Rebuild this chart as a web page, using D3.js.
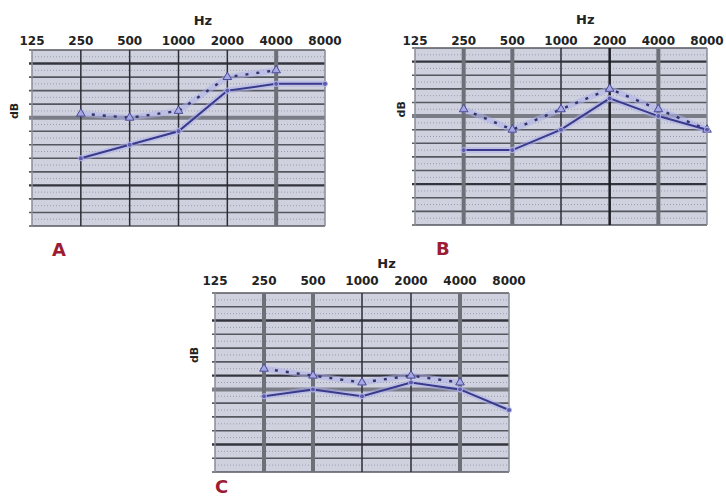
<!DOCTYPE html>
<html>
<head>
<meta charset="utf-8">
<title>Audiograms</title>
<style>
  body { margin: 0; background: #fff; }
  text { font-family: Verdana, "DejaVu Sans", sans-serif; }
</style>
</head>
<body>
<div id="chart"></div>
<script src="https://d3js.org/d3.v7.min.js"></script>
<script>
// data
var freqs = [125, 250, 500, 1000, 2000, 4000, 8000];
var freqLabels = ["125", "250", "500", "1000", "2000", "4000", "8000"];
var dbTicks = d3.range(-10, 121, 10);
var testFreqs = [250, 500, 1000, 2000, 4000, 8000];

var aSolid  = [70, 60, 50, 20, 15, 15];
var aDashed = [37, 40, 35, 10, 5, null];
var bSolid  = [65, 65, 50, 27, 40, 50];
var bDashed = [35, 50, 35, 20, 35, 50];
var cSolid  = [65, 60, 65, 55, 60, 75];
var cDashed = [45, 50, 55, 50, 55, null];

var panels = [
  { letter: "A", solid: aSolid, dashed: aDashed, x0: 32, x1: 325, y0: 50, y1: 226,
    hzY: 25, tickY: 45, dbX: 18, letterX: 52, letterY: 256,
    thickH: [0, 90], bandH: [40], bandV: [4000], darkV: [] },
  { letter: "B", solid: bSolid, dashed: bDashed, x0: 415, x1: 707, y0: 48, y1: 225,
    hzY: 24, tickY: 45, dbX: 405, letterX: 436, letterY: 255,
    thickH: [0, 90], bandH: [40], bandV: [250, 500, 4000], darkV: [2000] },
  { letter: "C", solid: cSolid, dashed: cDashed, x0: 215, x1: 509, y0: 293, y1: 472,
    hzY: 268, tickY: 285, dbX: 198, letterX: 215, letterY: 493,
    thickH: [10, 50, 100], bandH: [60], bandV: [250, 500, 4000], darkV: [] }
];

var svg = d3.select("#chart")
  .append("svg")
  .attr("width", 726)
  .attr("height", 498);

panels.forEach(function(p) {
  var x = d3.scaleLog().base(2).domain([125, 8000]).range([p.x0, p.x1]);
  var y = d3.scaleLinear().domain([-10, 120]).range([p.y0, p.y1]);
  var g = svg.append("g");

  g.append("rect")
    .attr("x", p.x0).attr("y", p.y0)
    .attr("width", p.x1 - p.x0).attr("height", p.y1 - p.y0)
    .attr("fill", "#cfd2de");

  // faint minor lines at 5 dB
  g.selectAll(".minor")
    .data(d3.range(-5, 120, 10))
    .enter().append("line")
    .attr("x1", p.x0).attr("x2", p.x1)
    .attr("y1", function(d) { return y(d); })
    .attr("y2", function(d) { return y(d); })
    .attr("stroke", "#9a9db0")
    .attr("stroke-width", 1)
    .attr("stroke-dasharray", "1,2");

  // horizontal grid lines
  g.selectAll(".hline")
    .data(dbTicks)
    .enter().append("line")
    .attr("x1", p.x0 - 3).attr("x2", p.x1)
    .attr("y1", function(d) { return y(d); })
    .attr("y2", function(d) { return y(d); })
    .attr("stroke", function(d) {
      if (p.bandH.indexOf(d) >= 0) return "#7a7c86";
      if (p.thickH.indexOf(d) >= 0) return "#34343c";
      return "#55575f";
    })
    .attr("stroke-width", function(d) {
      if (p.bandH.indexOf(d) >= 0) return 4;
      if (p.thickH.indexOf(d) >= 0) return 2.4;
      return 1.6;
    });

  // vertical grid lines
  g.selectAll(".vline")
    .data(freqs)
    .enter().append("line")
    .attr("x1", function(d) { return x(d); })
    .attr("x2", function(d) { return x(d); })
    .attr("y1", p.y0).attr("y2", p.y1)
    .attr("stroke", function(d) {
      if (p.bandV.indexOf(d) >= 0) return "#6e7078";
      if (p.darkV.indexOf(d) >= 0) return "#1e1e26";
      if (d === 125 || d === 8000) return "#8a8c96";
      return "#2c2c34";
    })
    .attr("stroke-width", function(d) {
      if (p.bandV.indexOf(d) >= 0) return 4;
      if (p.darkV.indexOf(d) >= 0) return 2.5;
      return 1.5;
    });

  // labels
  g.append("text")
    .attr("x", x(1414)).attr("y", p.hzY)
    .attr("text-anchor", "middle")
    .attr("font-size", 13).attr("font-weight", "bold")
    .attr("fill", "#222")
    .text("Hz");

  g.selectAll(".flabel")
    .data(freqs)
    .enter().append("text")
    .attr("x", function(d) { return x(d); })
    .attr("y", p.tickY)
    .attr("text-anchor", "middle")
    .attr("font-size", 12).attr("font-weight", "bold")
    .attr("fill", "#222")
    .text(function(d, i) { return freqLabels[i]; });

  g.append("text")
    .attr("transform", "translate(" + p.dbX + "," + y(35) + ") rotate(-90)")
    .attr("text-anchor", "middle")
    .attr("font-size", 11).attr("font-weight", "bold")
    .attr("fill", "#222")
    .text("dB");

  g.append("text")
    .attr("x", p.letterX).attr("y", p.letterY)
    .attr("font-size", 18).attr("font-weight", "bold")
    .attr("fill", "#9b1d35")
    .text(p.letter);

  // series
  var line = d3.line()
    .defined(function(d) { return d[1] !== null; })
    .x(function(d) { return x(d[0]); })
    .y(function(d) { return y(d[1]); });

  var solidPts = testFreqs.map(function(f, i) { return [f, p.solid[i]]; });
  var dashedPts = testFreqs.map(function(f, i) { return [f, p.dashed[i]]; });

  [solidPts, dashedPts].forEach(function(pts) {
    g.append("path")
      .attr("d", line(pts))
      .attr("fill", "none")
      .attr("stroke", "#aeb0ea")
      .attr("stroke-opacity", 0.55)
      .attr("stroke-width", 6);
  });

  g.append("path")
    .attr("d", line(dashedPts))
    .attr("fill", "none")
    .attr("stroke", "#33336a")
    .attr("stroke-width", 2.4)
    .attr("stroke-dasharray", "3,8");

  g.append("path")
    .attr("d", line(solidPts))
    .attr("fill", "none")
    .attr("stroke", "#3a3a8c")
    .attr("stroke-width", 2);

  var tri = d3.symbol().type(d3.symbolTriangle).size(32);
  g.selectAll(".dmark")
    .data(dashedPts.filter(function(d) { return d[1] !== null; }))
    .enter().append("path")
    .attr("d", tri)
    .attr("transform", function(d) { return "translate(" + x(d[0]) + "," + y(d[1]) + ")"; })
    .attr("fill", "#a4a7e2")
    .attr("stroke", "#4a4a96")
    .attr("stroke-width", 1);

  g.selectAll(".smark")
    .data(solidPts)
    .enter().append("circle")
    .attr("cx", function(d) { return x(d[0]); })
    .attr("cy", function(d) { return y(d[1]); })
    .attr("r", 2.5)
    .attr("fill", "#5a5aa8")
    .attr("stroke", "#b4b6ec")
    .attr("stroke-width", 1);
});
</script>
</body>
</html>
